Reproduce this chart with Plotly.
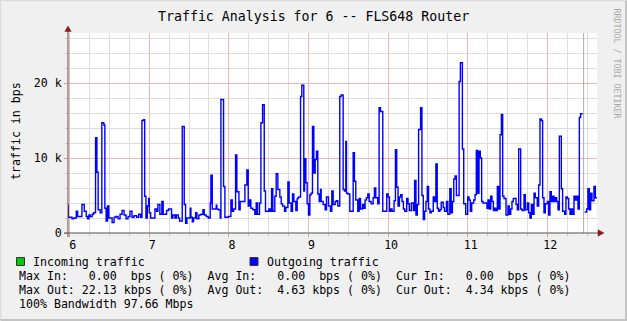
import plotly.graph_objects as go

# ---------------- data (hours of day, kbps) ----------------
hours = [5.971, 5.983, 6.029, 6.050, 6.083, 6.100, 6.154, 6.183, 6.208, 6.225, 6.242, 6.258, 6.283, 6.300,
         6.325, 6.342, 6.358, 6.383, 6.404, 6.429, 6.442, 6.458, 6.475, 6.492, 6.533, 6.558, 6.583, 6.608,
         6.633, 6.658, 6.683, 6.708, 6.733, 6.758, 6.783, 6.808, 6.842, 6.867, 6.892, 6.908, 6.929, 6.942,
         6.958, 6.975, 6.992, 7.000, 7.017, 7.071, 7.092, 7.108, 7.133, 7.158, 7.175, 7.217, 7.242,
         7.280, 7.297, 7.322, 7.339, 7.364, 7.381, 7.414, 7.439, 7.456, 7.473, 7.515, 7.523, 7.540, 7.556,
         7.582, 7.598, 7.623, 7.649, 7.674, 7.690, 7.715, 7.741, 7.766, 7.774, 7.791, 7.841, 7.849, 7.866,
         7.891, 7.900, 7.933, 7.950, 7.992, 8.025, 8.042, 8.059, 8.084, 8.100, 8.126, 8.142, 8.201, 8.226,
         8.243, 8.259, 8.276, 8.301, 8.326, 8.343, 8.360, 8.385, 8.402, 8.423, 8.444, 8.460, 8.502, 8.519,
         8.536, 8.552, 8.577, 8.594,
         8.615, 8.640, 8.657, 8.674, 8.699, 8.715, 8.741, 8.757, 8.782, 8.799, 8.816, 8.841, 8.858, 8.874,
         8.900, 8.916, 8.941, 8.950, 8.967, 8.983, 9.000, 9.017, 9.033, 9.050, 9.067, 9.084, 9.100, 9.117,
         9.134, 9.151, 9.159, 9.184, 9.209, 9.226, 9.251, 9.276, 9.293, 9.310, 9.335, 9.351, 9.368, 9.393,
         9.410, 9.435, 9.452, 9.469, 9.477, 9.494, 9.519, 9.561, 9.577, 9.594, 9.619, 9.636, 9.653, 9.678,
         9.695, 9.711, 9.728, 9.745, 9.762, 9.787, 9.812, 9.828, 9.845, 9.870, 9.887, 9.904,
         9.933, 9.983, 10.000, 10.017, 10.033, 10.050, 10.075, 10.092, 10.108, 10.125, 10.142, 10.158,
         10.175, 10.192, 10.208, 10.233, 10.250, 10.267, 10.292, 10.317, 10.333, 10.350, 10.367, 10.383,
         10.408, 10.425, 10.442, 10.458, 10.475, 10.492, 10.508, 10.525, 10.542, 10.567, 10.583, 10.600,
         10.617, 10.633, 10.650, 10.667, 10.692, 10.708, 10.733, 10.750, 10.775, 10.792, 10.808, 10.825,
         10.842, 10.858, 10.892, 10.908, 10.933, 10.950, 10.975, 11.000, 11.017, 11.033, 11.050, 11.075,
         11.092, 11.108, 11.125, 11.142, 11.158, 11.175, 11.192, 11.242,
         11.255, 11.272, 11.289, 11.305, 11.322, 11.339, 11.356, 11.372, 11.389, 11.406, 11.423, 11.439,
         11.456, 11.481, 11.506, 11.523, 11.540, 11.556, 11.573, 11.607, 11.623, 11.640, 11.665, 11.682,
         11.707, 11.724, 11.749, 11.766, 11.782, 11.799, 11.816, 11.833, 11.849, 11.874, 11.891, 11.908,
         11.925, 11.941, 11.958, 11.975, 12.000, 12.017, 12.033, 12.050, 12.067, 12.084, 12.100, 12.117,
         12.134, 12.151, 12.176, 12.192, 12.218, 12.234, 12.251, 12.268, 12.285, 12.301, 12.318, 12.335,
         12.351, 12.368, 12.385, 12.402, 12.418, 12.444, 12.469, 12.494, 12.510, 12.527, 12.544, 12.561,
         12.586, 12.603]
outgoing_kbps = [3.7, 2.1, 1.9, 2.0, 2.9, 2.2, 3.8, 2.9, 2.2, 1.9, 2.4, 2.2, 2.5, 2.7,
                 12.7, 8.1, 3.1, 2.7, 14.7, 14.4, 3.3, 1.6, 3.6, 2.0, 1.4, 2.1, 2.2, 1.9,
                 2.5, 3.0, 2.4, 1.9, 2.2, 2.9, 2.1, 2.3, 2.1, 2.5, 2.1, 15.0, 15.1, 4.9,
                 2.0, 3.6, 4.6, 2.7, 2.0, 3.2, 2.9, 3.8, 2.5, 4.2, 2.5, 3.0, 3.2,
                 2.0, 2.4, 2.0, 2.4, 2.0, 1.6, 14.2, 3.8, 1.3, 2.0, 3.3, 2.1, 1.5, 2.0,
                 2.7, 1.9, 2.4, 2.5, 3.1, 2.4, 2.2, 2.0, 4.0, 7.7, 3.2, 3.7, 3.2, 3.1,
                 2.0, 17.8, 6.2, 2.1, 2.2, 4.4, 2.9, 3.2, 10.4, 5.5, 3.1, 4.2, 6.4, 8.4,
                 3.6, 4.4, 3.3, 3.1, 2.5, 4.0, 2.5, 4.0, 14.7, 17.1, 5.6, 2.9, 3.2, 2.9,
                 5.9, 2.9, 4.9, 7.9,
                 5.8, 4.8, 3.9, 3.6, 2.9, 3.4, 6.8, 4.0, 2.9, 5.2, 4.2, 3.0, 4.6, 4.8,
                 18.2, 19.7, 5.6, 9.9, 6.7, 3.9, 2.4, 5.1, 5.3, 14.2, 8.0, 9.8, 10.9, 5.2,
                 4.2, 5.8, 4.2, 3.8, 3.1, 4.8, 3.6, 2.9, 5.6, 3.8, 4.2, 4.3, 3.6, 18.2,
                 18.4, 5.8, 5.6, 12.2, 5.3, 5.2, 2.9, 10.7, 6.9, 4.4, 2.9, 4.6, 3.2, 3.8,
                 3.3, 4.4, 4.7, 5.2, 4.2, 3.9, 4.7, 6.0, 4.7, 3.9, 16.7, 16.2,
                 2.9, 5.2, 4.8, 2.9, 3.2, 2.9, 4.3, 11.1, 6.1, 3.6, 4.8, 5.1,
                 4.2, 3.2, 2.9, 4.6, 3.9, 3.0, 4.0, 3.0, 7.0, 2.4, 3.8, 13.8,
                 16.7, 5.0, 1.8, 2.9, 4.2, 6.2, 3.2, 2.7, 2.9, 4.8, 4.2, 9.2,
                 3.3, 2.9, 3.1, 4.1, 3.4, 2.9, 4.2, 2.5, 5.9, 2.7, 4.2, 7.2,
                 7.6, 5.0, 20.2, 22.7, 11.2, 3.9, 2.5, 4.8, 4.4, 2.9, 4.0, 4.4,
                 5.1, 11.0, 5.3, 10.9, 10.0, 4.2, 4.0, 3.3,
                 4.4, 3.2, 4.9, 4.2, 3.0, 3.3, 3.0, 6.2, 3.2, 13.1, 15.8, 4.9,
                 4.6, 2.4, 3.6, 2.5, 3.2, 4.2, 4.6, 3.8, 3.1, 11.2, 3.2, 3.0,
                 5.1, 3.1, 4.0, 2.7, 2.0, 3.8, 2.5, 5.3, 4.7, 3.6, 6.4, 15.2,
                 15.0, 4.7, 2.7, 3.9, 4.2, 2.4, 5.5, 4.2, 4.9, 4.2, 4.7, 4.2,
                 3.1, 12.9, 5.9, 2.9, 2.5, 4.8, 4.6, 3.2, 2.5, 3.2, 2.5, 4.9,
                 4.4, 4.9, 3.2, 15.4, 15.9, None, 2.8, 3.2, 5.9, 3.1, 5.3, 4.3,
                 6.2, 4.7]
end_hour = 12.624
now_hour = 12.456

x_tick_vals = [6, 7, 8, 9, 10, 11, 12]
x_tick_text = ["6", "7", "8", "9", "10", "11", "12"]
y_tick_vals = [0, 10, 20]
y_tick_text = ["0", "10 k", "20 k"]

title_text = "Traffic Analysis for 6 -- FLS648 Router"
y_title = "traffic in bps"
legend_names = ["Incoming traffic", "Outgoing traffic"]
legend_colors = ["#00CC00", "#0000FF"]
stat_lines = [
    "Max In:   0.00  bps ( 0%)  Avg In:   0.00  bps ( 0%)  Cur In:   0.00  bps ( 0%)",
    "Max Out: 22.13 kbps ( 0%)  Avg Out:  4.63 kbps ( 0%)  Cur Out:  4.34 kbps ( 0%)",
    "100% Bandwidth 97.66 Mbps",
]
watermark = "RRDTOOL / TOBI OETIKER"

# ---------------- geometry helpers ----------------
WID, HEI = 627, 321
L, T, R, B = 68, 33, 30, 88
W = WID - L - R
H = HEI - T - B
X0, X1 = 5.979, 12.624
Y0, Y1 = 0, 26.67


def xp(px):
    return (px - L) / W


def yp(py):
    return (T + H - py) / H


# step path with gaps
px_, py_ = [], []
for i, (t, v) in enumerate(zip(hours, outgoing_kbps)):
    if v is None:
        px_.append(t)
        py_.append(outgoing_kbps[i - 1])
        px_.append(t)
        py_.append(None)
    else:
        px_.append(t)
        py_.append(v)
px_.append(end_hour)
py_.append(outgoing_kbps[-1])

MONO = "DejaVu Sans Mono"
FS = 11.6

fig = go.Figure()
fig.add_trace(go.Scatter(x=px_, y=py_, mode="lines", line=dict(color="#0000FF", width=1.4, shape="hv"),
                         connectgaps=False, hoverinfo="skip"))

shapes = []
# "now" marker line
shapes.append(dict(type="line", xref="x", yref="paper", x0=now_hour, x1=now_hour, y0=0, y1=1,
                   line=dict(color="#ABABAB", width=1), layer="above"))
# axes
AX = "#505050"
shapes.append(dict(type="line", xref="paper", yref="paper", x0=xp(64), x1=xp(600), y0=0, y1=0,
                   line=dict(color=AX, width=1), layer="above"))
shapes.append(dict(type="line", xref="paper", yref="paper", x0=0, x1=0, y0=yp(237), y1=yp(30),
                   line=dict(color=AX, width=1), layer="above"))
ARR = "#8B1A1A"
shapes.append(dict(type="path", xref="paper", yref="paper",
                   path=f"M {xp(598)},{yp(229.8)} L {xp(604)},{yp(233)} L {xp(598)},{yp(236.2)} Z",
                   fillcolor=ARR, line=dict(color=ARR, width=0.5), layer="above"))
shapes.append(dict(type="path", xref="paper", yref="paper",
                   path=f"M {xp(64.8)},{yp(31.5)} L {xp(68)},{yp(26)} L {xp(71.2)},{yp(31.5)} Z",
                   fillcolor=ARR, line=dict(color=ARR, width=0.5), layer="above"))
# frame of the whole picture
shapes.append(dict(type="path", xref="paper", yref="paper",
                   path=f"M {xp(0.5)},{yp(320)} L {xp(0.5)},{yp(0.5)} L {xp(626)},{yp(0.5)}",
                   line=dict(color="#DCDCDC", width=1.5), layer="above"))
shapes.append(dict(type="path", xref="paper", yref="paper",
                   path=f"M {xp(626)},{yp(0.5)} L {xp(626)},{yp(320)} L {xp(0.5)},{yp(320)}",
                   line=dict(color="#C4C4C4", width=2), layer="above"))
# legend squares
for cx, col in zip([16.5, 250], legend_colors):
    shapes.append(dict(type="rect", xref="paper", yref="paper", x0=xp(cx), x1=xp(cx + 8),
                       y0=yp(265.5), y1=yp(257.5), fillcolor=col, line=dict(color="#333333", width=1),
                       layer="above"))

ann = []
ann.append(dict(text=title_text, xref="paper", yref="paper", x=xp(313.5), y=yp(16.5), xanchor="center",
                yanchor="middle", showarrow=False, font=dict(family=MONO, size=13.25, color="#000000")))
ann.append(dict(text=y_title, xref="paper", yref="paper", x=xp(15.5), y=yp(131.5), xanchor="center",
                yanchor="middle", textangle=-90, showarrow=False, font=dict(family=MONO, size=FS, color="#000000")))
ann.append(dict(text=watermark, xref="paper", yref="paper", x=xp(616.5), y=yp(63), xanchor="center",
                yanchor="middle", textangle=90, showarrow=False, font=dict(family=MONO, size=8.3, color="#A8A8A8")))
for lx, name in zip([31.2, 264.5], legend_names):
    ann.append(dict(text=name.replace(" ", "\u00a0"), xref="paper", yref="paper", x=xp(lx), y=yp(261.5),
                    xanchor="left", yanchor="middle", showarrow=False,
                    font=dict(family=MONO, size=FS, color="#000000")))
for ly, line in zip([275.5, 289.5, 303.5], stat_lines):
    ann.append(dict(text=line.replace(" ", "\u00a0"), xref="paper", yref="paper", x=xp(16.8), y=yp(ly),
                    xanchor="left", yanchor="middle", showarrow=False,
                    font=dict(family=MONO, size=FS, color="#000000")))

fig.update_layout(
    width=WID, height=HEI, autosize=False,
    margin=dict(l=L, r=R, t=T, b=B, pad=0),
    paper_bgcolor="#F0F0F0", plot_bgcolor="#FFFFFF",
    showlegend=False, hovermode=False,
    shapes=shapes, annotations=ann,
    xaxis=dict(range=[X0, X1], tickmode="array", tickvals=x_tick_vals, ticktext=x_tick_text,
               showgrid=True, gridcolor="#F4B4B4", gridwidth=1, zeroline=False, showline=False,
               ticks="outside", ticklen=3, tickcolor="#E89090", tickwidth=1,
               tickfont=dict(family=MONO, size=FS, color="#000000"), ticklabelshift=3,
               ticklabelstandoff=-2,
               minor=dict(tickmode="linear", tick0=6, dtick=0.25, showgrid=True, gridcolor="#DDDDDD",
                          gridwidth=1, ticks="outside", ticklen=2, tickcolor="#C8C8C8")),
    yaxis=dict(range=[Y0, Y1], tickmode="array", tickvals=y_tick_vals, ticktext=y_tick_text,
               showgrid=True, gridcolor="#F4B4B4", gridwidth=1, zeroline=False, showline=False,
               ticks="outside", ticklen=3, tickcolor="#E89090", tickwidth=1,
               tickfont=dict(family=MONO, size=FS, color="#000000"),
               minor=dict(tickmode="linear", tick0=0, dtick=2, showgrid=True, gridcolor="#DDDDDD",
                          gridwidth=1, ticks="outside", ticklen=2, tickcolor="#C8C8C8")),
)

fig.write_html("out.html", config={"displayModeBar": False})
